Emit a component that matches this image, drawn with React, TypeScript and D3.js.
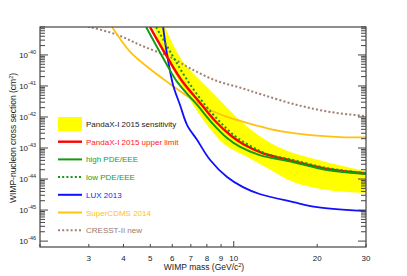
import React, { useEffect, useRef } from 'react';
import * as d3 from 'd3';

// WIMP mass (GeV/c^2) and cross section (cm^2)
const cresstMass = [2.6, 3.03, 3.79, 4.59, 5.42, 5.89, 7.13, 8.7, 10.6, 12.8, 16.9, 22.3, 30];
const cresstSigma = [1.1e-39, 7.9e-40, 4.5e-40, 2.1e-40, 1.16e-40, 8.6e-41, 3.3e-41, 1.45e-41, 8.7e-42, 5.1e-42, 2.45e-42, 1.45e-42, 1.07e-42];

const cdmsMass = [3.64, 4.23, 4.99, 5.89, 6.96, 8.22, 9.71, 11.9, 14.7, 18.9, 24.2, 30];
const cdmsSigma = [7.9e-40, 1.25e-40, 3.5e-41, 1.16e-41, 4.1e-42, 1.68e-42, 9.3e-43, 5.5e-43, 3.5e-43, 2.6e-43, 2.26e-43, 2.2e-43];

const luxMass = [5.56, 5.75, 6.04, 6.4, 6.79, 7.38, 8.22, 9.46, 10.8, 12.4, 16.4, 20, 30];
const luxSigma = [7.9e-40, 1e-40, 1.08e-41, 2.44e-42, 5.5e-43, 1.81e-43, 4.1e-44, 1.16e-44, 5.5e-45, 3.3e-45, 1.81e-45, 1.25e-45, 9.3e-46];

const highMass = [4.83, 5.56, 6.25, 7.38, 8.42, 9.46, 10.55, 12.4, 16.4, 21.7, 30];
const highSigma = [7.9e-40, 8.0e-41, 1.35e-41, 2.44e-42, 5.9e-43, 2.1e-43, 1.08e-43, 5.9e-44, 3.5e-44, 1.95e-44, 1.45e-44];

const limitMass = [4.99, 5.75, 6.51, 7.62, 8.64, 9.71, 10.8, 12.7, 16.4, 21.7, 30];
const limitSigma = [7.9e-40, 8.6e-41, 1.45e-41, 2.63e-42, 6.9e-43, 2.63e-43, 1.35e-43, 6.9e-44, 3.8e-44, 2.1e-44, 1.51e-44];

const lowMass = [5.25, 5.99, 6.79, 7.88, 8.93, 10.1, 11.5, 13.2, 16.4, 21.7, 30];
const lowSigma = [7.9e-40, 1e-40, 1.56e-41, 2.44e-42, 6.9e-43, 2.44e-43, 1.16e-43, 6.4e-44, 4.1e-44, 2.26e-44, 1.56e-44];

const bandUpMass = [5.65, 6.5, 8.35, 10.7, 12.4, 15.3, 21.7, 30];
const bandUpSigma = [7.9e-40, 6.9e-41, 6.4e-42, 6.9e-43, 2.44e-43, 8.6e-44, 3.5e-44, 1.81e-44];
const bandLowMass = [5.12, 5.75, 6.68, 8.02, 9.31, 11.2, 13.2, 16.4, 21.7, 30];
const bandLowSigma = [7.9e-40, 8.0e-41, 6.4e-42, 5.5e-43, 1.25e-43, 5.1e-44, 2.26e-44, 8.0e-45, 4.4e-45, 3.5e-45];

const xTicks = [2, 3, 4, 5, 6, 7, 8, 9, 10, 20, 30];
const xLabels = [3, 4, 5, 6, 7, 8, 9, 10, 20, 30];
const yDecades = [-46, -45, -44, -43, -42, -41, -40];

const legendNames = [
  'PandaX-I 2015 sensitivity',
  'PandaX-I 2015 upper limit',
  'high PDE/EEE',
  'low PDE/EEE',
  'LUX 2013',
  'SuperCDMS 2014',
  'CRESST-II new',
];
const legendColors = ['#ffff00', '#ff0000', '#139a13', '#139a13', '#1010ff', '#ffc20e', '#a08070'];
const legendText = ['#222', '#ff2020', '#20a020', '#20a020', '#2020ff', '#ffc20e', '#9a7a6a'];

const zip = (m: number[], s: number[]) => m.map((v, i) => [v, s[i]] as [number, number]);

const App: React.FC = () => {
  const svgRef = useRef<SVGSVGElement>(null);

  useEffect(() => {
    document.body.style.margin = '0';
    if (!svgRef.current) return;
    const svg = d3.select(svgRef.current);
    svg.selectAll('*').remove();

    const width = 407;
    const height = 276;
    const margin = { top: 27, right: 41, bottom: 29, left: 40 };
    const font = '"Liberation Sans", Arial, sans-serif';

    const x = d3.scaleLog().domain([2, 30]).range([margin.left, width - margin.right]);
    const y = d3.scaleLog().domain([10 ** -46.19, 10 ** -39.1]).range([height - margin.bottom, margin.top]);

    svg.append('clipPath').attr('id', 'plot-clip')
      .append('rect')
      .attr('x', margin.left).attr('y', margin.top)
      .attr('width', width - margin.left - margin.right)
      .attr('height', height - margin.top - margin.bottom);

    const plot = svg.append('g').attr('clip-path', 'url(#plot-clip)');

    const line = d3.line<[number, number]>()
      .x(d => x(d[0]))
      .y(d => y(d[1]))
      .curve(d3.curveCatmullRom.alpha(0.5));

    // sensitivity band
    const up = line(zip(bandUpMass, bandUpSigma)) as string;
    const low = line(zip(bandLowMass, bandLowSigma).reverse()) as string;
    plot.append('path')
      .attr('d', up + 'L' + low.slice(1) + 'Z')
      .attr('fill', '#ffff00')
      .attr('stroke', 'none');

    const drawLine = (m: number[], s: number[], color: string, w: number, dash?: string) => {
      plot.append('path')
        .attr('d', line(zip(m, s)))
        .attr('fill', 'none')
        .attr('stroke', color)
        .attr('stroke-width', w)
        .attr('stroke-dasharray', dash ?? null);
    };

    drawLine(cresstMass, cresstSigma, '#a08070', 2, '2,2.2');
    drawLine(cdmsMass, cdmsSigma, '#ffc20e', 1.8);
    drawLine(luxMass, luxSigma, '#1010ff', 1.8);
    drawLine(limitMass, limitSigma, '#ff0000', 2.4);
    drawLine(highMass, highSigma, '#139a13', 2);
    drawLine(lowMass, lowSigma, '#139a13', 2, '2,2.5');

    // frame
    svg.append('rect')
      .attr('x', margin.left).attr('y', margin.top)
      .attr('width', width - margin.left - margin.right)
      .attr('height', height - margin.top - margin.bottom)
      .attr('fill', 'none')
      .attr('stroke', '#444')
      .attr('stroke-width', 1.2);

    // y ticks, left and right, pointing inward
    const yTickVals: number[] = [];
    yDecades.forEach(e => {
      for (let k = 1; k <= 9; k++) yTickVals.push(k * 10 ** e);
    });
    yTickVals.push(10 ** -39);
    const yIn = yTickVals.filter(v => y(v) >= margin.top - 0.5 && y(v) <= height - margin.bottom + 0.5);
    const isMajor = (v: number) => Math.abs(Math.log10(v) - Math.round(Math.log10(v))) < 1e-6;

    const ticks = svg.append('g').attr('stroke', '#444').attr('stroke-width', 1);
    yIn.forEach(v => {
      const len = isMajor(v) ? 8 : 5;
      ticks.append('line')
        .attr('x1', margin.left).attr('x2', margin.left + len)
        .attr('y1', y(v)).attr('y2', y(v));
      ticks.append('line')
        .attr('x1', width - margin.right).attr('x2', width - margin.right - len)
        .attr('y1', y(v)).attr('y2', y(v));
    });

    xTicks.forEach(v => {
      const len = v === 10 ? 6 : 3;
      ticks.append('line')
        .attr('x1', x(v)).attr('x2', x(v))
        .attr('y1', height - margin.bottom).attr('y2', height - margin.bottom - len);
    });

    // y tick labels 10^n
    yDecades.forEach(e => {
      const t = svg.append('text')
        .attr('x', margin.left - 4)
        .attr('y', y(10 ** e) + 3)
        .attr('text-anchor', 'end')
        .style('font-family', font)
        .style('font-size', '8px')
        .style('fill', '#222');
      t.append('tspan').text('10');
      t.append('tspan').attr('dy', -4).style('font-size', '5.5px').text(String(e));
    });

    // x tick labels
    xLabels.forEach(v => {
      svg.append('text')
        .attr('x', x(v))
        .attr('y', height - margin.bottom + 14)
        .attr('text-anchor', 'middle')
        .style('font-family', font)
        .style('font-size', '8px')
        .style('fill', '#222')
        .text(String(v));
    });

    // axis titles
    const xt = svg.append('text')
      .attr('x', 204)
      .attr('y', 270)
      .attr('text-anchor', 'middle')
      .style('font-family', font)
      .style('font-size', '8.5px')
      .style('fill', '#222');
    xt.append('tspan').text('WIMP mass (GeV/c');
    xt.append('tspan').attr('dy', -3.5).style('font-size', '5.5px').text('2');
    xt.append('tspan').attr('dy', 3.5).text(')');

    const yt = svg.append('text')
      .attr('transform', 'translate(16,138) rotate(-90)')
      .attr('text-anchor', 'middle')
      .style('font-family', font)
      .style('font-size', '8.5px')
      .style('fill', '#222');
    yt.append('tspan').text('WIMP-nucleon cross section (cm');
    yt.append('tspan').attr('dy', -3.5).style('font-size', '5.5px').text('2');
    yt.append('tspan').attr('dy', 3.5).text(')');

    // legend
    const legend = svg.append('g').attr('transform', 'translate(58,124)');
    legendNames.forEach((name, i) => {
      const ly = i * 17.7;
      if (i === 0) {
        legend.append('rect')
          .attr('x', 0).attr('y', ly - 7)
          .attr('width', 24).attr('height', 14)
          .attr('fill', legendColors[i]);
      } else {
        const dotted = i === 3 || i === 6;
        legend.append('line')
          .attr('x1', 0).attr('x2', 24)
          .attr('y1', ly).attr('y2', ly)
          .attr('stroke', legendColors[i])
          .attr('stroke-width', i === 1 ? 2.4 : 2)
          .attr('stroke-dasharray', dotted ? '2,2.2' : null);
      }
      legend.append('text')
        .attr('x', 28)
        .attr('y', ly + 3)
        .style('font-family', font)
        .style('font-size', '8px')
        .style('fill', legendText[i])
        .text(name);
    });
  }, []);

  return <svg ref={svgRef} width={407} height={276} style={{ display: 'block', background: '#fff' }}></svg>;
};

export default App;
